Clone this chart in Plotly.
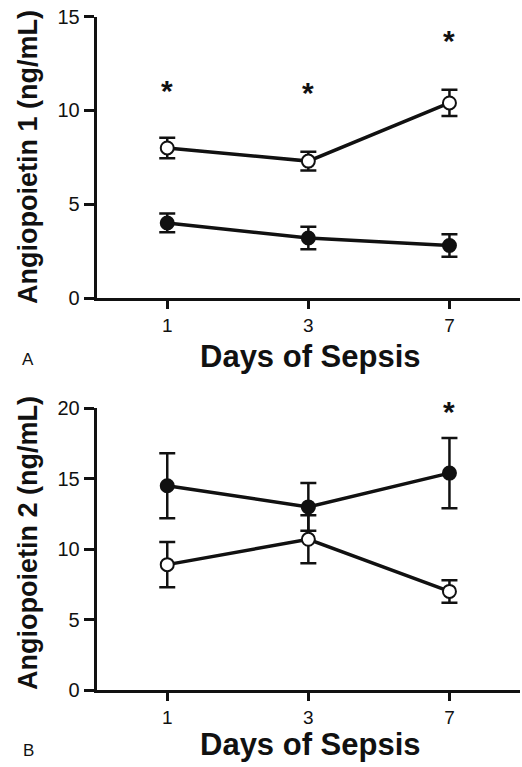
import plotly.graph_objects as go

days = ["1", "3", "7"]

# Panel A: Angiopoietin 1
ang1_open = [8.0, 7.3, 10.4]
ang1_open_err = [0.55, 0.5, 0.7]
ang1_filled = [4.0, 3.2, 2.8]
ang1_filled_err = [0.5, 0.6, 0.6]
ang1_star_y = [11.2, 11.1, 13.9]

# Panel B: Angiopoietin 2
ang2_open = [8.9, 10.7, 7.0]
ang2_open_err = [1.6, 1.7, 0.8]
ang2_filled = [14.5, 13.0, 15.4]
ang2_filled_err = [2.3, 1.7, 2.5]
ang2_star_days = ["7"]
ang2_star_y = [20.0]

FONT = "Liberation Sans, Arial, sans-serif"
INK = "#111111"
W, H = 522, 767

fig = go.Figure()


def add_series(y, err, filled, xa, ya):
    fig.add_trace(go.Scatter(
        x=days, y=y, xaxis=xa, yaxis=ya, mode="lines+markers",
        line=dict(color=INK, width=3.5),
        marker=dict(symbol="circle", size=13,
                    color=INK if filled else "white",
                    line=dict(color=INK, width=2)),
        error_y=dict(type="data", array=err, visible=True,
                     color=INK, thickness=2.5, width=8),
        showlegend=False, cliponaxis=False,
    ))


add_series(ang1_filled, ang1_filled_err, True, "x", "y")
add_series(ang1_open, ang1_open_err, False, "x", "y")
add_series(ang2_open, ang2_open_err, False, "x2", "y2")
add_series(ang2_filled, ang2_filled_err, True, "x2", "y2")


def star(d, yv, xr, yr):
    fig.add_annotation(x=days.index(d), y=yv, xref=xr, yref=yr, text="<b>*</b>",
                       showarrow=False, yanchor="middle", yshift=-3,
                       font=dict(family=FONT, size=30, color=INK))


for d, yv in zip(days, ang1_star_y):
    star(d, yv, "x", "y")
for d, yv in zip(ang2_star_days, ang2_star_y):
    star(d, yv, "x2", "y2")


def ptext(px, py, text, size, bold=False, angle=0):
    fig.add_annotation(x=px / W, y=1 - py / H, xref="paper", yref="paper",
                       text=f"<b>{text}</b>" if bold else text,
                       showarrow=False, xanchor="center", yanchor="middle",
                       textangle=angle, borderpad=0,
                       font=dict(family=FONT, size=size, color=INK))


# panel letters
ptext(28, 360, "A", 17)
ptext(28, 750, "B", 17)
# x titles
ptext(310, 357, "Days of Sepsis", 31, bold=True)
ptext(310, 744, "Days of Sepsis", 31, bold=True)
# y titles
ptext(28, 157, "Angiopoietin 1 (ng/mL)", 27, bold=True, angle=-90)
ptext(28, 543, "Angiopoietin 2 (ng/mL)", 27, bold=True, angle=-90)

xdom = [96.7 / W, 520 / W]
common_x = dict(type="category", range=[-0.5, 2.5], domain=xdom, automargin=False,
                showline=True, linewidth=3, linecolor=INK,
                ticks="outside", ticklen=8, tickwidth=3, tickcolor=INK,
                showgrid=False, zeroline=False,
                tickfont=dict(family=FONT, size=19, color=INK))
common_y = dict(showline=True, linewidth=3, linecolor=INK, automargin=False,
                ticks="outside", ticklen=10, tickwidth=3, tickcolor=INK,
                showgrid=False, zeroline=False,
                tickfont=dict(family=FONT, size=20, color=INK))

fig.update_layout(
    width=W, height=H,
    margin=dict(l=0, r=0, t=0, b=0, autoexpand=False),
    plot_bgcolor="white", paper_bgcolor="white",
    xaxis=dict(common_x, anchor="y"),
    yaxis=dict(common_y, range=[0, 15], tickvals=[0, 5, 10, 15],
               domain=[(H - 298) / H, (H - 16.7) / H], anchor="x"),
    xaxis2=dict(common_x, anchor="y2"),
    yaxis2=dict(common_y, range=[0, 20], tickvals=[0, 5, 10, 15, 20],
                domain=[(H - 690) / H, (H - 408.3) / H], anchor="x2"),
)

fig.write_html("out.html", config={"displayModeBar": False},
               post_script="document.body.style.margin='0';document.body.style.padding='0';")
